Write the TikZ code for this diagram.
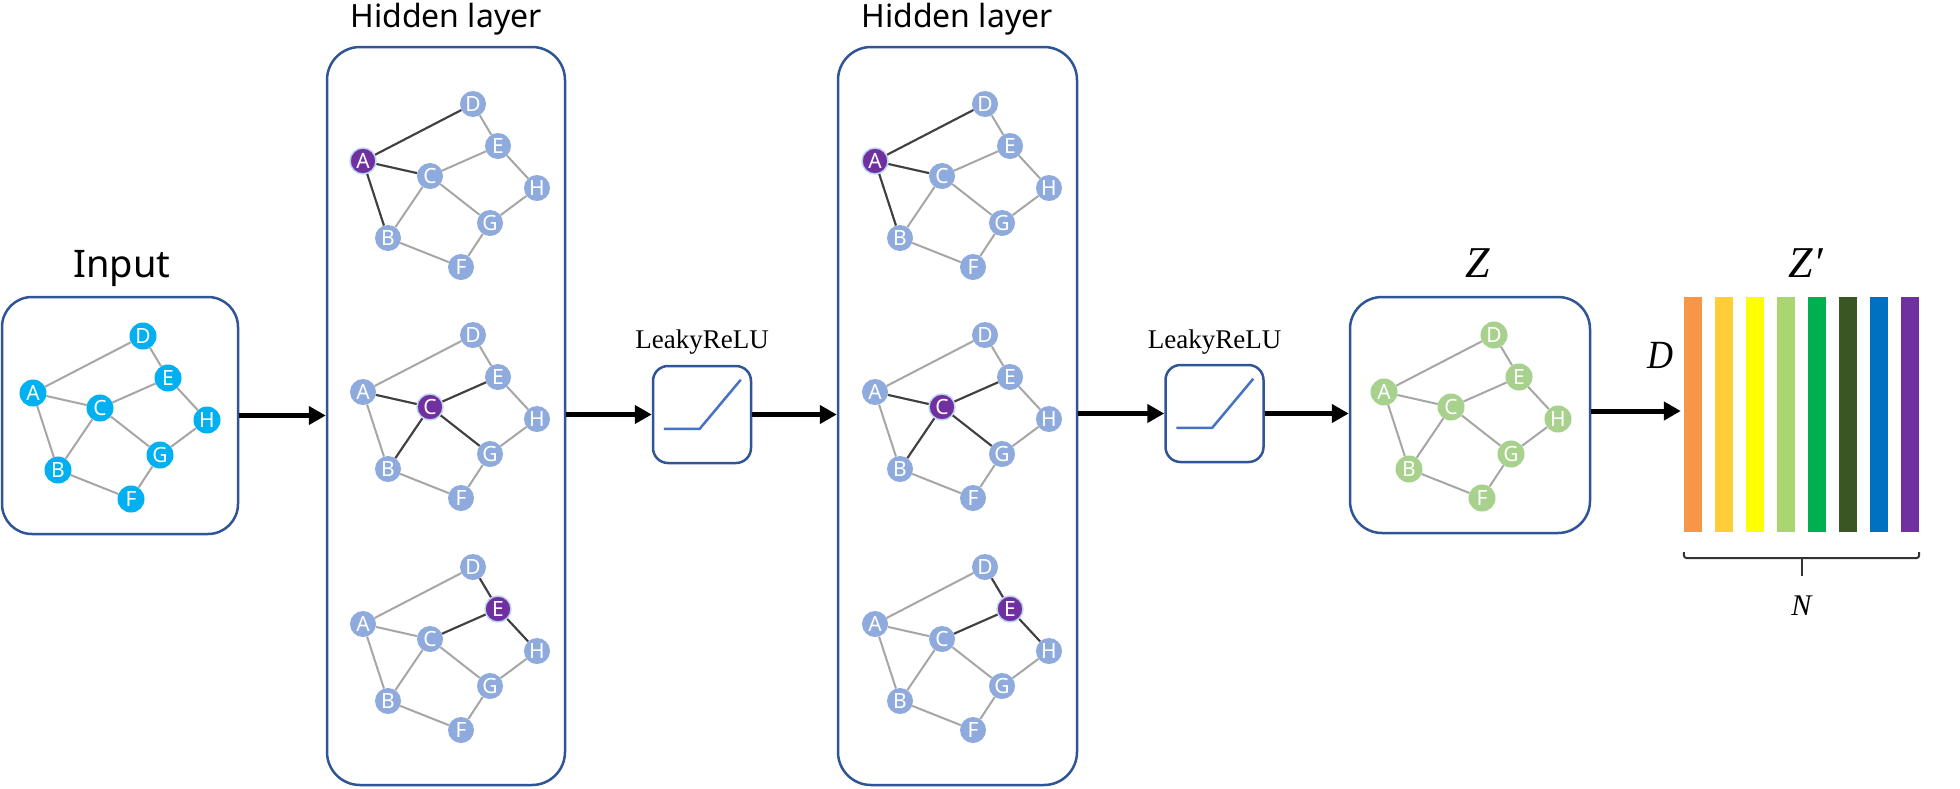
\documentclass[tikz,border=0pt]{standalone}
\usepackage{fontspec}
\setmainfont{Liberation Serif}
\newfontfamily\notosans{Noto Sans}
\usetikzlibrary{arrows.meta,calc,shapes.geometric}
\definecolor{boxblue}{HTML}{2F5597}
\definecolor{incyan}{HTML}{00B0F0}
\definecolor{hblue}{HTML}{8FAADC}
\definecolor{hpurple}{HTML}{7030A0}
\definecolor{glow}{HTML}{BDD7EE}
\definecolor{zgreen}{HTML}{A9D18E}
\definecolor{edgegray}{HTML}{A6A6A6}
\definecolor{edgedark}{HTML}{404040}
\definecolor{relublue}{HTML}{4472C4}
\definecolor{barA}{HTML}{F79646}
\definecolor{barB}{HTML}{FFCC3A}
\definecolor{barC}{HTML}{FFFF00}
\definecolor{barD}{HTML}{A9D670}
\definecolor{barE}{HTML}{00B050}
\definecolor{barF}{HTML}{3A5623}
\definecolor{barG}{HTML}{0070C0}
\definecolor{barH}{HTML}{7030A0}
\newcommand\gnet[6]{%
  \def\hlname{#6}%
  \foreach \n/\dx/\dy in {A/0/0,D/110/-57,E/135/-15,C/67/15,H/174/27,G/127/62,B/25/77,F/98/106}{%
    \edef\tmp{\n}%
    \ifx\tmp\hlname
      \node[pnode] (#1\n) at ({#2+\dx},{#3+(\dy)*#5}) {\n};
    \else
      \node[#4] (#1\n) at ({#2+\dx},{#3+(\dy)*#5}) {\n};
    \fi
  }
  \foreach \a/\b in {A/D,A/C,A/B,D/E,C/E,C/B,C/G,E/H,H/G,G/F,B/F}{\draw[edge] (#1\a) -- (#1\b);}
}
\newcommand\hledges[2]{\foreach \a/\b in {#2}{\draw[hledge] (#1\a) -- (#1\b);}}
\begin{document}
\begin{tikzpicture}[x=1pt,y=-1pt,
  box/.style={draw=boxblue,line width=2.5pt,fill=white,inner sep=0pt},
  gnode/.style={circle,inner sep=0pt,minimum size=27pt,text=white,font=\notosans\fontsize{21}{21}\selectfont},
  innode/.style={gnode,fill=incyan},
  hnode/.style={gnode,fill=hblue,minimum size=26pt},
  pnode/.style={gnode,fill=hpurple,draw=glow,line width=1.5pt,minimum size=26pt},
  znode/.style={gnode,fill=zgreen,minimum size=27pt},
  edge/.style={draw=edgegray,line width=2pt},
  hledge/.style={draw=edgedark,line width=2pt},
  arr/.style={line width=5pt,-{Triangle[length=17pt,width=18pt]}},
  title/.style={font=\notosans\fontsize{32}{32}\selectfont,anchor=base},
  relulabel/.style={font=\fontsize{27}{27}\selectfont,anchor=base},
  mathlabel/.style={anchor=base,inner sep=0pt},
  relu/.style={draw=relublue,line width=2.5pt},
  bar/.style={rectangle,inner sep=0pt,minimum width=18pt,minimum height=235pt},
  brk/.style={draw=black!80,line width=2pt,rounded corners=3pt}
]
\useasboundingbox (0,0) rectangle (1960,788);

% boxes
\node[box,minimum width=236pt,minimum height=237pt,rounded corners=30pt] (inbox) at (120,415.5) {};
\node[box,minimum width=238pt,minimum height=738pt,rounded corners=33pt] (h1) at (446,416) {};
\node[box,minimum width=239pt,minimum height=738pt,rounded corners=33pt] (h2) at (957.5,416) {};
\node[box,minimum width=98pt,minimum height=97pt,rounded corners=15pt] (lr1) at (702,414.5) {};
\node[box,minimum width=98pt,minimum height=97pt,rounded corners=15pt] (lr2) at (1214.5,413.5) {};
\node[box,minimum width=240pt,minimum height=236pt,rounded corners=32pt] (zbox) at (1470,415) {};

% titles
\node[title,font=\notosans\fontsize{38}{38}\selectfont] (tin) at (122,277) {Input};
\node[title] (th1) at (446,27) {Hidden layer};
\node[title] (th2) at (957,27) {Hidden layer};
\node[relulabel] (tl1) at (702,348) {LeakyReLU};
\node[relulabel] (tl2) at (1214.5,348) {LeakyReLU};
\node[mathlabel] (tz) at (1478,277) {\fontsize{44}{44}\selectfont\textit{Z}};
\node[mathlabel] (tzp) at (1806,277) {\fontsize{44}{44}\selectfont\textit{Z}\kern1pt\textit{′}};

% relu curves
\draw[relu] ($(lr1.north west)+(12,64)$) -- ($(lr1.north west)+(48,64)$) -- ($(lr1.north west)+(89,15)$);
\draw[relu] ($(lr2.north west)+(12,64)$) -- ($(lr2.north west)+(48,64)$) -- ($(lr2.north west)+(89,15)$);

% graphs
\gnet{in}{33}{393}{innode}{1}{none}
\gnet{ha}{363}{161}{hnode}{1}{A}
\hledges{ha}{A/D,A/C,A/B}
\gnet{hb}{363}{392}{hnode}{1}{C}
\hledges{hb}{C/A,C/E,C/B,C/G}
\gnet{hc}{363}{624}{hnode}{1}{E}
\hledges{hc}{E/D,E/C,E/H}
\gnet{ka}{875}{161}{hnode}{1}{A}
\hledges{ka}{A/D,A/C,A/B}
\gnet{kb}{875}{392}{hnode}{1}{C}
\hledges{kb}{C/A,C/E,C/B,C/G}
\gnet{kc}{875}{624}{hnode}{1}{E}
\hledges{kc}{E/D,E/C,E/H}
\gnet{z}{1384}{392}{znode}{1}{none}

% bars
\foreach \i/\c in {0/barA,1/barB,2/barC,3/barD,4/barE,5/barF,6/barG,7/barH}{
  \node[bar,fill=\c] (bar\i) at ({1693+31*\i},414.5) {};
}
\node[mathlabel] (td) at (1660,368) {\fontsize{40}{40}\selectfont\scalebox{0.9}[1]{\textit{D}}};

% brace
\draw[brk] ([yshift=-20pt]bar0.south west) -- ++(0,6) -| ([yshift=-20pt]bar7.south east);
\coordinate (bmid) at ($(bar0.south west)!0.5!(bar7.south east)$);
\draw[draw=black!80,line width=2pt] ([yshift=-26pt]bmid) -- ++(0,18);
\node[mathlabel] (tn) at (1802,615) {\fontsize{30}{30}\selectfont\textit{N}};

% arrows
\draw[arr] (inbox.east) -- (inbox.east -| h1.west);
\draw[arr] (lr1.west -| h1.east) -- (lr1.west);
\draw[arr] (lr1.east) -- (lr1.east -| h2.west);
\draw[arr] (lr2.west -| h2.east) -- (lr2.west);
\draw[arr] (lr2.east) -- (lr2.east -| zbox.west);
\coordinate (ay) at (0,411);
\draw[arr] (zbox.east |- ay) -- ([xshift=-3pt]bar0.west |- ay);
\end{tikzpicture}
\end{document}
